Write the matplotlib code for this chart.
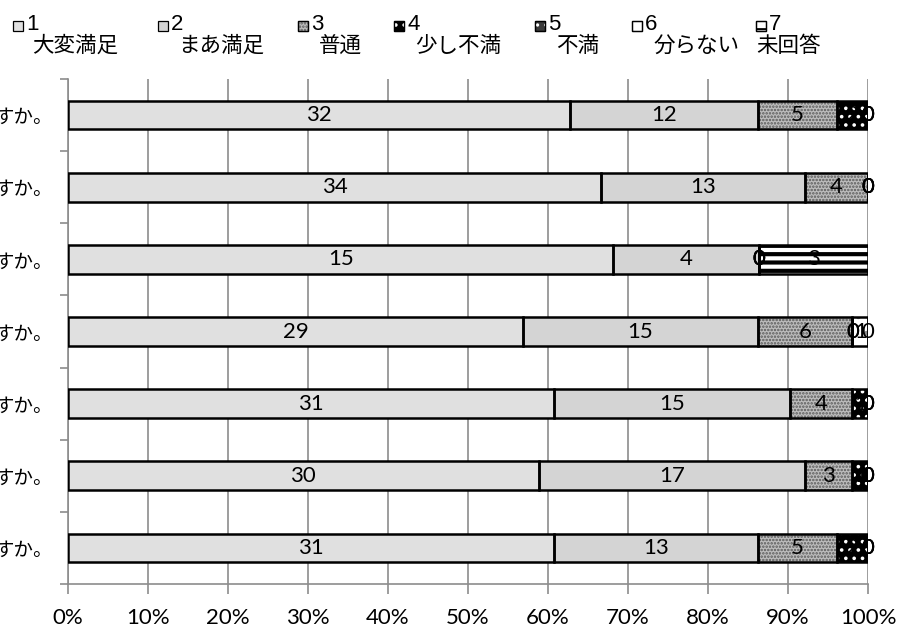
import numpy as np
import matplotlib
matplotlib.use('Agg')
import matplotlib.pyplot as plt
from matplotlib.patches import Rectangle

plt.rcParams['font.family'] = ['Noto Sans CJK JP', 'DejaVu Sans']
plt.rcParams['hatch.linewidth'] = 1.2

# データ（件数）
questions = ['すか。'] * 7
codes = ['1', '2', '3', '4', '5', '6', '7']
names = ['大変満足', 'まあ満足', '普通', '少し不満', '不満', '分らない', '未回答']
c1 = [32, 34, 15, 29, 31, 30, 31]
c2 = [12, 13, 4, 15, 15, 17, 13]
c3 = [5, 4, 0, 6, 4, 3, 5]
c4 = [2, 0, 0, 0, 1, 1, 2]
c5 = [0, 0, 0, 0, 0, 0, 0]
c6 = [0, 0, 0, 1, 0, 0, 0]
c7 = [0, 0, 3, 0, 0, 0, 0]

counts = np.array([c1, c2, c3, c4, c5, c6, c7], dtype=float)
share = counts / counts.sum(axis=0)

# 塗り / ハッチ
faces = ['#e0e0e0', '#d4d4d4', '#bdbdbd', '#000000', '#3a3a3a', '#ffffff', '#ffffff']
hatches = [None, None, '.....', '..', '..', '.', '--']
hcolors = [None, None, '#5a5a5a', '#ffffff', '#ffffff', '#8a8a8a', '#000000']
hwidths = [1.2, 1.2, 1.2, 1.4, 1.2, 1.2, 3.0]

fig = plt.figure(figsize=(9.01, 6.29), dpi=100)
ax = fig.add_axes([68 / 901, 1 - 584 / 629, 800 / 901, 505 / 629])

y = np.arange(len(questions))
left = np.zeros(len(questions))
for k in range(len(codes)):
    w = share[k]
    ax.barh(y, w, left=left, height=0.4, color=faces[k], lw=0, zorder=2)
    if hatches[k]:
        with plt.rc_context({'hatch.linewidth': hwidths[k]}):
            ax.barh(y, w, left=left, height=0.4, color='none', edgecolor=hcolors[k],
                    hatch=hatches[k], lw=0, zorder=3)
    ax.barh(y, w, left=left, height=0.4, color='none', edgecolor='black',
            lw=1.8, zorder=4)
    for i in range(len(y)):
        ax.text(left[i] + w[i] / 2, y[i], f'{int(counts[k][i])}', ha='center',
                va='center', fontsize=16, color='black', zorder=5,
                family=['Lato', 'DejaVu Sans'])
    left = left + w

ax.set_xlim(0, 1)
ax.set_ylim(len(questions) - 0.5, -0.5)
ax.set_xticks(np.arange(0, 1.01, 0.1))
ax.set_xticklabels([f'{int(round(v * 100))}%' for v in np.arange(0, 1.01, 0.1)],
                   fontsize=16, family=['Lato', 'DejaVu Sans'])
ax.set_yticks(y)
ax.set_yticklabels(questions, fontsize=14)
ax.set_yticks(np.arange(-0.5, len(questions), 1), minor=True)
ax.tick_params(axis='y', which='major', length=0, pad=11)
ax.tick_params(axis='y', which='minor', length=6, color='#8c8c8c', width=1.2)
ax.tick_params(axis='x', length=7, color='#8c8c8c', width=1.2, pad=10)
ax.grid(axis='x', color='#8c8c8c', lw=1.2, zorder=0)
for s in ['top', 'right']:
    ax.spines[s].set_visible(False)
for s in ['left', 'bottom']:
    ax.spines[s].set_color('#8c8c8c')
    ax.spines[s].set_linewidth(1.2)

# 凡例
box_x = [13, 158, 298, 394, 535, 632, 756]
name_centers = [75, 221, 340, 458, 578, 697, 789]
for k in range(len(codes)):
    x0 = box_x[k]
    rect = (x0 / 901, 1 - 31 / 629)
    size = (10 / 901, 10 / 629)
    fig.patches.append(Rectangle(rect, *size, transform=fig.transFigure,
                                 facecolor=faces[k], edgecolor='black', lw=0.9))
    if hatches[k]:
        with plt.rc_context({'hatch.linewidth': min(hwidths[k], 1.5)}):
            fig.patches.append(Rectangle(rect, *size, transform=fig.transFigure,
                                         facecolor='none', edgecolor=hcolors[k],
                                         hatch=hatches[k], lw=0))
        fig.patches.append(Rectangle(rect, *size, transform=fig.transFigure,
                                     facecolor='none', edgecolor='black', lw=0.9))
    fig.text((x0 + 13) / 901, 1 - 25 / 629, codes[k], ha='left', va='center',
             fontsize=16, family=['Liberation Sans', 'DejaVu Sans'])
    fig.text(name_centers[k] / 901, 1 - 46 / 629, names[k], ha='center',
             va='center', fontsize=15.5)

fig.savefig('out.png', dpi=100)
